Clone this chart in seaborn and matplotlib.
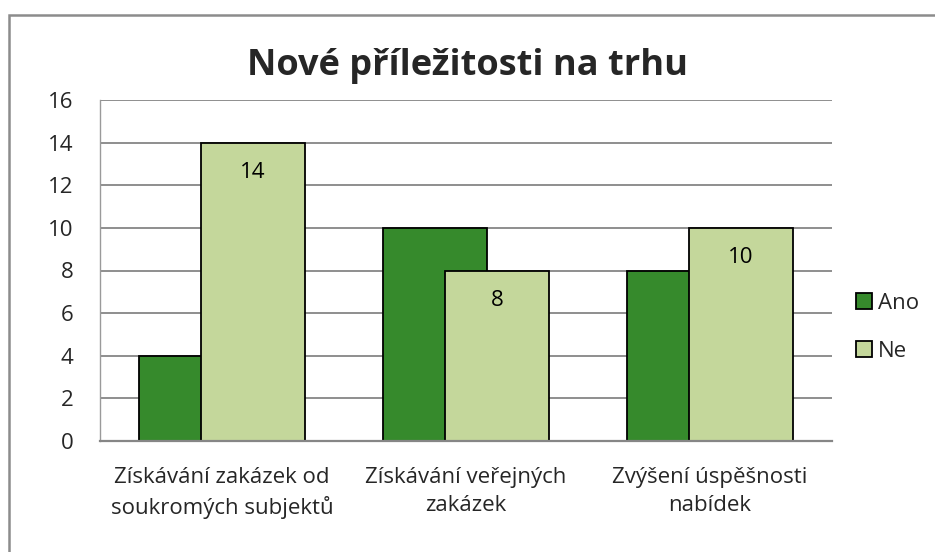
import matplotlib
matplotlib.use("Agg")
import matplotlib.pyplot as plt
import seaborn as sns
import pandas as pd
from matplotlib.patches import Rectangle

categories = ["Získávání zakázek od\nsoukromých subjektů", "Získávání veřejných\nzakázek", "Zvýšení úspěšnosti\nnabídek"]
series_names = ["Ano", "Ne"]
ano_values = [4, 10, 8]
ne_values = [14, 8, 10]
y_ticks = [0, 2, 4, 6, 8, 10, 12, 14, 16]
title = "Nové příležitosti na trhu"

sns.set_theme(style="white")
plt.rcParams['font.family'] = ['Open Sans', 'DejaVu Sans']

colors = {"Ano": "#368A2C", "Ne": "#C4D79B"}
offsets = {"Ano": -0.127, "Ne": 0.127}
bar_w = 0.426
FS = 16

fig = plt.figure(figsize=(9.35, 5.52), dpi=100)
ax = fig.add_axes([100/935, 1-441/552, 732/935, 341/552])

for name, vals in zip(series_names, [ano_values, ne_values]):
    df = pd.DataFrame({"pos": [i + offsets[name] for i in range(len(categories))], "val": vals})
    sns.barplot(data=df, x="pos", y="val", native_scale=True, width=bar_w,
                color=colors[name], saturation=1, edgecolor="black", linewidth=1.3,
                ax=ax, label=name, zorder=3)

# labels on Ne bars
for i, v in enumerate(ne_values):
    ax.text(i + offsets["Ne"], v - 1.41, str(v), ha="center", va="center", fontsize=FS, color="black", zorder=4)

ax.set_xlim(-0.5, 2.5)
ax.set_ylim(0, 16)
ax.set_yticks(y_ticks)
ax.set_yticklabels([str(t) for t in y_ticks], fontsize=FS)
ax.set_xticks(range(len(categories)))
ax.set_xticklabels(categories, fontsize=FS, linespacing=1.4)
ax.tick_params(axis="x", length=0, pad=19)
ax.tick_params(axis="y", length=0, pad=19)
ax.set_xlabel("")
ax.set_ylabel("")
ax.yaxis.grid(True, color="#868686", linewidth=1.3, zorder=0)
ax.set_axisbelow(True)
for s in ["top", "right"]:
    ax.spines[s].set_visible(False)
ax.spines["left"].set_color("#9a9a9a")
ax.spines["left"].set_linewidth(1.0)
ax.spines["bottom"].set_color("#868686")
ax.spines["bottom"].set_linewidth(1.6)
ax.spines["bottom"].set_zorder(5)

leg = ax.legend(loc="center left", bbox_to_anchor=(1.005, 0.333), frameon=False, fontsize=FS,
                handlelength=0.72, handleheight=0.72, handletextpad=0.3, labelspacing=1.2)
for h in leg.legend_handles:
    h.set_edgecolor("black")
    h.set_linewidth(1.3)

fig.text(468/935, 1-75/552, title, ha="center", va="baseline", fontsize=26, fontweight="bold")

fig.patches.append(Rectangle((9/935, -0.01), 1.0, 1-15/552 + 0.01, transform=fig.transFigure,
                             fill=False, edgecolor="#8c8c8c", linewidth=1.8))

fig.savefig("out.png", dpi=100)
